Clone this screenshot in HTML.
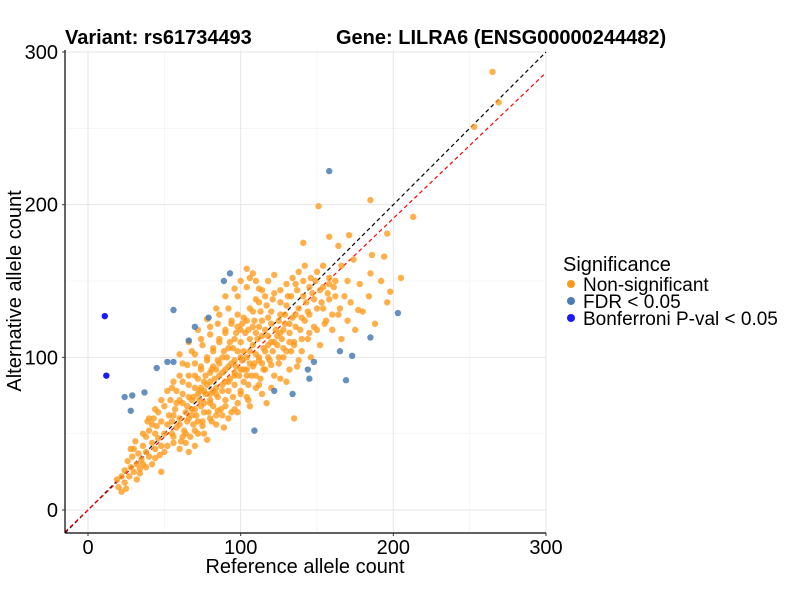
<!DOCTYPE html>
<html><head><meta charset="utf-8"><style>
body{margin:0;background:#fff;font-family:"Liberation Sans",Arial,sans-serif}
svg{display:block}
</style></head><body>
<svg id="chart" width="800" height="600" xmlns="http://www.w3.org/2000/svg">
<rect width="800" height="600" fill="#fff"/>
<text x="65" y="44" font-size="20" font-weight="bold">Variant: rs61734493</text>
<text x="336" y="44" font-size="20" font-weight="bold">Gene: LILRA6 (ENSG00000244482)</text>
<g id="grid"></g>
<g id="lines"></g>
<g id="pts"></g>
<g id="axes"></g>
<text x="305" y="573" font-size="20" text-anchor="middle">Reference allele count</text>
<text transform="translate(21,291) rotate(-90)" font-size="20" text-anchor="middle">Alternative allele count</text>
<g>
<text x="563" y="271" font-size="20">Significance</text>
<g><circle cx="571" cy="284" r="4" fill="#FF9A1A"/><text x="583" y="291" font-size="19">Non-significant</text></g>
<g><circle cx="571" cy="301" r="4" fill="#4A7DB4"/><text x="583" y="308" font-size="19">FDR &lt; 0.05</text></g>
<g><circle cx="571" cy="318" r="4" fill="#1A1AFF"/><text x="583" y="325" font-size="19">Bonferroni P-val &lt; 0.05</text></g>
</g>
</svg>
<script>
const xTicks=[0,100,200,300];
const yTicks=[0,100,200,300];
const minorTicks=[50,150,250];
const bonfRef=[11,12];
const bonfAlt=[127,88];
const fdrRef=[24,29,28,37,45,52,56,56,66,70,79,89,93,158,203,185,165,173,148,144,145,169,122,134,109];
const fdrAlt=[74,75,65,77,93,97,97,131,111,120,126,150,155,222,129,113,104,101,97,92,86,85,78,76,52];
const nsRef=[185,151,213,141,158,171,196,164,186,194,185,205,198,177,265,269,253,
20,22,24,25,19,27,28,30,26,32,33,35,30,36,38,40,34,38,40,42,44,45,46,47,48,42,29,31,43,39,50,52,53,55,56,57,58,60,61,62,63,64,65,66,66,67,68,69,70,71,72,73,74,75,76,77,78,79,80,80,81,82,83,84,85,86,87,88,89,90,90,91,92,93,94,95,96,97,98,99,100,100,101,102,103,104,105,106,107,108,109,110,111,112,113,114,115,116,117,118,119,120,121,122,123,124,125,126,127,128,129,130,131,132,133,134,135,136,137,138,139,140,141,142,143,144,145,146,147,148,150,152,154,156,158,160,162,164,166,168,170,172,175,178,180,184,188,192,196,104,108,112,86,90,94,98,82,78,74,70,66,62,58,54,50,46,42,60,64,70,76,84,92,98,106,114,120,126,132,138,72,76,84,88,92,96,100,104,108,112,116,118,122,126,130,82,86,90,94,96,100,102,104,106,108,110,112,114,116,118,120,68,72,74,78,80,82,60,56,52,48,44,66,70,76,80,84,88,92,96,98,102,106,110,114,118,122,126,128,132,136,140,144,148,152,154,158,162,166,170,174,135,55,48,36,28,24,22,36,32,34,
55,60,65,70,75,80,85,62,68,74,80,86,92,98,104,110,90,96,100,106,84,78,72,66,60,
70,75,80,85,90,95,100,105,110,115,120,125,130,135,140,145,150,155,160,165,88,96,104,112,
58,62,66,70,74,78,82,86,90,94,98,102,106,110,114,118,122,126,130,134,138,142,146,150,154,158,65,69,73,77,81,85,89,93,97,101,105,109,113,117,121,125,129,133,137,141,145,149,153,157,161,60,64,68,72,76,80,84,88,92,96,100,104,108,112,116,120,124,128,132,136,40,44,48,52,56,38,44,50,56,62];
const nsAlt=[203,199,192,175,179,180,181,173,167,166,155,152,143,131,287,267,251,
15,12,18,14,20,22,28,25,32,30,37,33,40,42,38,35,27,48,52,44,40,55,47,36,25,30,35,45,60,58,50,42,62,58,48,66,54,60,45,70,52,64,58,38,74,48,66,56,80,62,50,72,68,58,84,76,46,64,90,70,58,78,86,62,74,96,66,82,54,92,72,100,78,86,64,106,82,94,70,88,110,78,98,84,116,92,72,104,88,120,96,80,112,100,86,124,106,92,70,114,98,130,104,88,118,108,96,136,112,100,122,84,140,116,104,126,110,148,94,132,118,104,150,124,136,112,128,100,142,120,132,108,146,124,138,118,150,128,112,140,124,136,118,148,130,140,122,150,136,158,155,145,110,116,122,128,104,98,92,96,88,84,78,72,68,64,56,40,44,42,50,56,60,64,68,76,80,86,92,98,86,78,92,100,106,112,118,124,130,136,140,126,142,128,134,68,88,84,96,90,100,104,100,112,108,116,120,114,118,108,122,72,76,80,82,84,94,72,62,56,58,50,60,66,70,76,80,90,94,98,104,92,96,102,96,100,110,116,106,110,120,126,130,138,144,132,152,140,160,150,164,60,50,42,50,40,26,22,30,20,24,
80,88,95,102,108,115,122,96,104,112,120,128,132,140,146,150,140,145,150,152,132,125,118,110,102,
52,55,60,65,68,74,76,82,88,92,95,100,104,108,112,116,118,122,128,132,62,66,74,82,
70,76,82,88,94,100,106,112,118,124,120,126,132,138,144,150,154,144,148,152,156,160,152,156,160,148,68,74,78,88,92,98,104,110,116,122,118,124,130,134,138,124,128,140,144,140,146,150,136,142,146,56,50,62,58,64,72,76,78,84,88,92,88,94,98,104,110,114,118,122,128,60,66,72,78,84,28,34,38,44,48];
const X0=88,Y0=510,K=458/300,L=65,R=546,T=50,B=533;
const sx=v=>X0+v*K, sy=v=>Y0-v*K;
const NS="http://www.w3.org/2000/svg";
function mk(tag,attrs,parent){const e=document.createElementNS(NS,tag);for(const k in attrs)e.setAttribute(k,attrs[k]);parent.appendChild(e);return e;}
const grid=document.getElementById('grid');
minorTicks.forEach(v=>{
  const a=mk('line',{x1:sx(v),x2:sx(v),y1:T,y2:B,stroke:'#f0f0f0','stroke-width':0.6},grid);
  
  
  const b=mk('line',{x1:L,x2:R,y1:sy(v),y2:sy(v),stroke:'#f0f0f0','stroke-width':0.6},grid);
  
  
});
xTicks.forEach(v=>{
  const a=mk('line',{x1:sx(v),x2:sx(v),y1:T,y2:B,stroke:'#e6e6e6','stroke-width':1},grid);
  
  
});
yTicks.forEach(v=>{
  const b=mk('line',{x1:L,x2:R,y1:sy(v),y2:sy(v),stroke:'#e6e6e6','stroke-width':1},grid);
  
  
});
const lines=document.getElementById('lines');
const dmin=-15,dmax=300;
const idl=mk('line',{x1:sx(dmin),y1:sy(dmin),x2:sx(dmax),y2:sy(dmax),stroke:'#000','stroke-width':1.2,'stroke-dasharray':'4,3'},lines);


const slope=0.955;
const fit=mk('line',{x1:sx(dmin),y1:sy(dmin*slope),x2:sx(dmax),y2:sy(dmax*slope),stroke:'#FF0000','stroke-width':1.2,'stroke-dasharray':'4,3'},lines);


const pts=document.getElementById('pts');
nsRef.forEach((v,i)=>{
  const c=mk('circle',{cx:sx(v),cy:sy(nsAlt[i]),r:3.2,fill:'#FF9A1A','fill-opacity':0.78},pts);
  
  
});
fdrRef.forEach((v,i)=>{
  const c=mk('circle',{cx:sx(v),cy:sy(fdrAlt[i]),r:3.2,fill:'#4A7DB4','fill-opacity':0.85},pts);
  
  
});
bonfRef.forEach((v,i)=>{
  const c=mk('circle',{cx:sx(v),cy:sy(bonfAlt[i]),r:3.2,fill:'#1A1AFF'},pts);
  
  
});
const axes=document.getElementById('axes');
const ya=mk('line',{x1:L,x2:L,y1:T,y2:B,stroke:'#000','stroke-width':1.2},axes);


const xa=mk('line',{x1:L,x2:R,y1:B,y2:B,stroke:'#000','stroke-width':1.2},axes);


xTicks.forEach(v=>{
  mk('line',{x1:sx(v),x2:sx(v),y1:B,y2:B+3,stroke:'#333'},axes);
  const t=mk('text',{x:sx(v),y:554,'font-size':20,'text-anchor':'middle'},axes);
  t.textContent=v;
  
  
});
yTicks.forEach(v=>{
  mk('line',{x1:L-3,x2:L,y1:sy(v),y2:sy(v),stroke:'#333'},axes);
  const t=mk('text',{x:58,y:sy(v)+7,'font-size':20,'text-anchor':'end'},axes);
  t.textContent=v;
  
  
});
</script>
</body></html>
